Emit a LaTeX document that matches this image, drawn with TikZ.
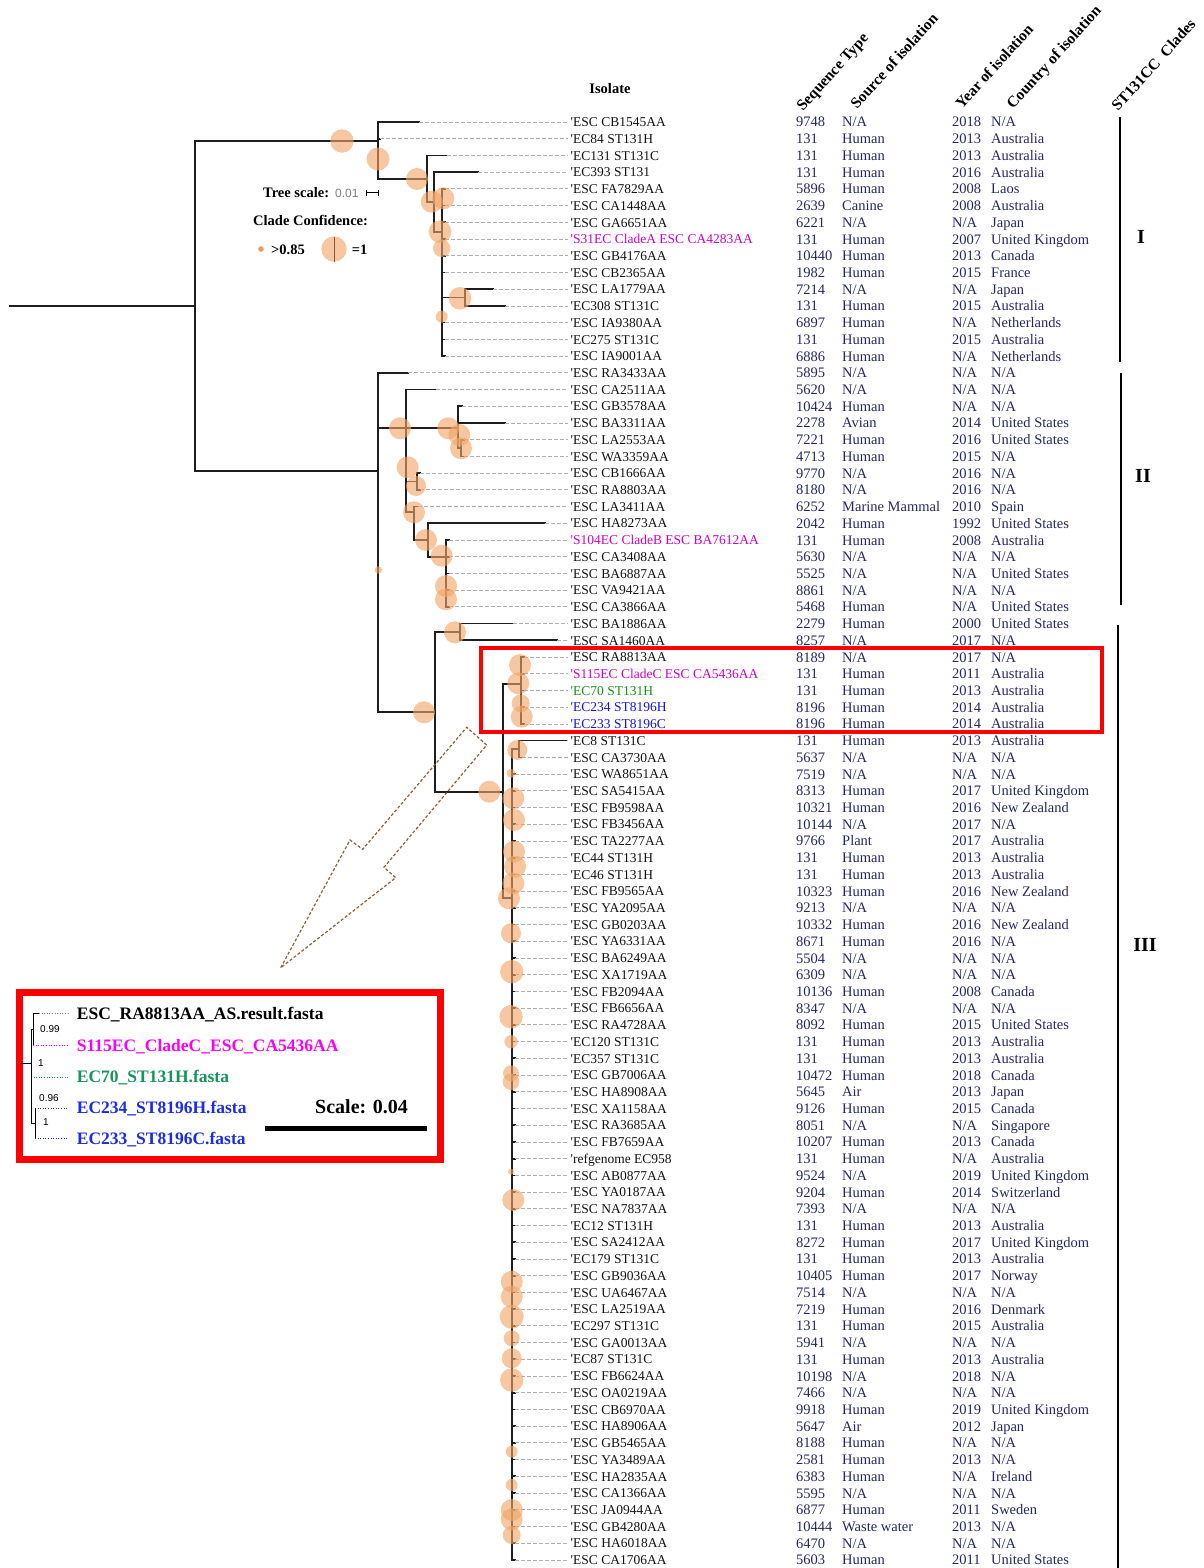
\documentclass[tikz,border=0pt]{standalone}
\usepackage{fontspec}
\setmainfont{Liberation Serif}
\newfontfamily\lblfont{Liberation Serif}
\newfontfamily\lsans{Liberation Sans}
\newcommand{\NA}{N/A}
\definecolor{peach}{RGB}{241,166,104}
\definecolor{dgrey}{RGB}{175,175,175}
\definecolor{navy}{RGB}{38,40,100}
\definecolor{lblk}{RGB}{20,20,20}
\definecolor{lmag}{RGB}{204,0,204}
\definecolor{lgrn}{RGB}{20,150,20}
\definecolor{lblu}{RGB}{20,20,230}
\definecolor{imag}{RGB}{250,0,250}
\definecolor{igrn}{RGB}{20,150,90}
\definecolor{iblu}{RGB}{25,45,230}
\definecolor{arrowbrown}{RGB}{150,95,50}
\definecolor{tline}{RGB}{30,30,30}
\begin{document}
\begin{tikzpicture}[x=1pt,y=-1pt,
  br/.style={tline,line width=1.7pt,line cap=rect},
  dl/.style={dgrey,line width=0.8pt,dash pattern=on 3.5pt off 2.5pt},
  lbl/.style={anchor=base west,inner sep=0pt,font=\lblfont\fontsize{13.5}{15}\selectfont},
  dat/.style={anchor=base west,inner sep=0pt,text=navy,font=\fontsize{14.5}{16}\selectfont},
  conf/.style={fill=peach,fill opacity=0.62,draw=none},
  hdr/.style={anchor=base west,inner sep=0pt,rotate=48,font=\bfseries\fontsize{15.5}{17}\selectfont},
  ilbl/.style={anchor=base west,inner sep=0pt,font=\bfseries\fontsize{17.5}{19}\selectfont},
  inum/.style={anchor=west,inner sep=0pt,font=\lsans\fontsize{10}{11}\selectfont},
  leg/.style={anchor=base west,inner sep=0pt,font=\bfseries\fontsize{14.5}{16}\selectfont},
]
\fill[white] (0,0) rectangle (1203,1568);
\useasboundingbox (0,0) rectangle (1203,1568);

% headers
\node[font=\bfseries\fontsize{14.5}{16}\selectfont] (hiso) at (610,89) {Isolate};
\node[hdr] (hst) at (803,112) {Sequence Type};
\node[hdr] (hsrc) at (857,110) {Source of isolation};
\node[hdr] (hyr) at (962,110) {Year of isolation};
\node[hdr] (hct) at (1013,110) {Country of isolation};
\node[hdr] (hcl) at (1118,112) {ST131CC\ \ Clades};

% internal tree branches
% root + clade I
\draw[br] (10,306) -- (195,306);
\draw[br] (195,141) -- (195,471);
\draw[br] (195,141) -- (378,141);
\draw[br] (378,122) -- (378,179);
\draw[br] (378,179) -- (427,179);
\draw[br] (427,155.4) -- (427,201.7);
\draw[br] (427,201.7) -- (434,201.7);
\draw[br] (434,172.2) -- (434,231.7);
\draw[br] (434,231.7) -- (441.7,231.7);
\draw[br] (441.7,188.9) -- (441.7,356.1);
\draw[br] (441.7,297.6) -- (465,297.6);
\draw[br] (465,289.2) -- (465,305.9);
% clade II
\draw[br] (195,471) -- (378,471);
\draw[br] (378,372.8) -- (378,712.3);
\draw[br] (378,428.3) -- (458.3,428.3);
\draw[br] (406,389.5) -- (406,512);
\draw[br] (458.3,406.2) -- (458.3,448);
\draw[br] (458.3,448) -- (461,448);
\draw[br] (461,439.7) -- (461,456.4);
\draw[br] (406,481.5) -- (416.7,481.5);
\draw[br] (416.7,473.1) -- (416.7,489.8);
\draw[br] (406,512) -- (414,512);
\draw[br] (414,506.6) -- (414,540);
\draw[br] (414,540) -- (428.3,540);
\draw[br] (428.3,523.3) -- (428.3,556.7);
\draw[br] (428.3,556.7) -- (446,556.7);
\draw[br] (446,540) -- (446,606.9);
% clade III
\draw[br] (378,712.3) -- (435,712.3);
\draw[br] (435,632) -- (435,791.7);
\draw[br] (435,632) -- (460,632);
\draw[br] (460,623.6) -- (460,640.3);
\draw[br] (435,791.7) -- (503,791.7);
\draw[br] (503,684.3) -- (503,898.3);
\draw[br] (503,684.3) -- (521,684.3);
\draw[br] (521,657) -- (521,723.9);
\draw[br] (503,898.3) -- (511.7,898.3);
\draw[br] (511.7,749) -- (511.7,1559.9);
\draw[br] (511.7,749) -- (519,749);
\draw[br] (519,740.6) -- (519,757.4);

% leaves
\foreach \i/\lab/\col/\st/\src/\yr/\ct/\xp/\xe in {
1/'ESC CB1545AA/lblk/9748/\NA/2018/\NA/378/419,
2/'EC84 ST131H/lblk/131/Human/2013/Australia/378/380,
3/'EC131 ST131C/lblk/131/Human/2013/Australia/427/447,
4/'EC393 ST131/lblk/131/Human/2016/Australia/434/478,
5/'ESC FA7829AA/lblk/5896/Human/2008/Laos/441.7/445,
6/'ESC CA1448AA/lblk/2639/Canine/2008/Australia/441.7/445,
7/'ESC GA6651AA/lblk/6221/\NA/\NA/Japan/441.7/445,
8/'S31EC CladeA ESC CA4283AA/lmag/131/Human/2007/United Kingdom/441.7/445,
9/'ESC GB4176AA/lblk/10440/Human/2013/Canada/441.7/445,
10/'ESC CB2365AA/lblk/1982/Human/2015/France/441.7/445,
11/'ESC LA1779AA/lblk/7214/\NA/\NA/Japan/465/493,
12/'EC308 ST131C/lblk/131/Human/2015/Australia/465/505,
13/'ESC IA9380AA/lblk/6897/Human/\NA/Netherlands/441.7/445,
14/'EC275 ST131C/lblk/131/Human/2015/Australia/441.7/445,
15/'ESC IA9001AA/lblk/6886/Human/\NA/Netherlands/441.7/445,
16/'ESC RA3433AA/lblk/5895/\NA/\NA/\NA/378/408,
17/'ESC CA2511AA/lblk/5620/\NA/\NA/\NA/406/436,
18/'ESC GB3578AA/lblk/10424/Human/\NA/\NA/458.3/462,
19/'ESC BA3311AA/lblk/2278/Avian/2014/United States/458.3/505,
20/'ESC LA2553AA/lblk/7221/Human/2016/United States/461/464,
21/'ESC WA3359AA/lblk/4713/Human/2015/\NA/461/464,
22/'ESC CB1666AA/lblk/9770/\NA/2016/\NA/416.7/420,
23/'ESC RA8803AA/lblk/8180/\NA/2016/\NA/416.7/420,
24/'ESC LA3411AA/lblk/6252/Marine Mammal/2010/Spain/414/418,
25/'ESC HA8273AA/lblk/2042/Human/1992/United States/428.3/545,
26/'S104EC CladeB ESC BA7612AA/lmag/131/Human/2008/Australia/446/449,
27/'ESC CA3408AA/lblk/5630/\NA/\NA/\NA/446/449,
28/'ESC BA6887AA/lblk/5525/\NA/\NA/United States/446/449,
29/'ESC VA9421AA/lblk/8861/\NA/\NA/\NA/446/449,
30/'ESC CA3866AA/lblk/5468/Human/\NA/United States/446/449,
31/'ESC BA1886AA/lblk/2279/Human/2000/United States/460/513,
32/'ESC SA1460AA/lblk/8257/\NA/2017/\NA/460/557,
33/'ESC RA8813AA/lblk/8189/\NA/2017/\NA/521/524,
34/'S115EC CladeC ESC CA5436AA/lmag/131/Human/2011/Australia/521/524,
35/'EC70 ST131H/lgrn/131/Human/2013/Australia/521/524,
36/'EC234 ST8196H/lblu/8196/Human/2014/Australia/521/524,
37/'EC233 ST8196C/lblu/8196/Human/2014/Australia/521/524,
38/'EC8 ST131C/lblk/131/Human/2013/Australia/519/567,
39/'ESC CA3730AA/lblk/5637/\NA/\NA/\NA/519/522,
40/'ESC WA8651AA/lblk/7519/\NA/\NA/\NA/511.7/515,
41/'ESC SA5415AA/lblk/8313/Human/2017/United Kingdom/511.7/515,
42/'ESC FB9598AA/lblk/10321/Human/2016/New Zealand/511.7/515,
43/'ESC FB3456AA/lblk/10144/\NA/2017/\NA/511.7/515,
44/'ESC TA2277AA/lblk/9766/Plant/2017/Australia/511.7/515,
45/'EC44 ST131H/lblk/131/Human/2013/Australia/511.7/515,
46/'EC46 ST131H/lblk/131/Human/2013/Australia/511.7/515,
47/'ESC FB9565AA/lblk/10323/Human/2016/New Zealand/511.7/515,
48/'ESC YA2095AA/lblk/9213/\NA/\NA/\NA/511.7/515,
49/'ESC GB0203AA/lblk/10332/Human/2016/New Zealand/511.7/515,
50/'ESC YA6331AA/lblk/8671/Human/2016/\NA/511.7/515,
51/'ESC BA6249AA/lblk/5504/\NA/\NA/\NA/511.7/515,
52/'ESC XA1719AA/lblk/6309/\NA/\NA/\NA/511.7/515,
53/'ESC FB2094AA/lblk/10136/Human/2008/Canada/511.7/515,
54/'ESC FB6656AA/lblk/8347/\NA/\NA/\NA/511.7/515,
55/'ESC RA4728AA/lblk/8092/Human/2015/United States/511.7/515,
56/'EC120 ST131C/lblk/131/Human/2013/Australia/511.7/515,
57/'EC357 ST131C/lblk/131/Human/2013/Australia/511.7/515,
58/'ESC GB7006AA/lblk/10472/Human/2018/Canada/511.7/515,
59/'ESC HA8908AA/lblk/5645/Air/2013/Japan/511.7/515,
60/'ESC XA1158AA/lblk/9126/Human/2015/Canada/511.7/515,
61/'ESC RA3685AA/lblk/8051/\NA/\NA/Singapore/511.7/515,
62/'ESC FB7659AA/lblk/10207/Human/2013/Canada/511.7/515,
63/'refgenome EC958/lblk/131/Human/\NA/Australia/511.7/515,
64/'ESC AB0877AA/lblk/9524/\NA/2019/United Kingdom/511.7/515,
65/'ESC YA0187AA/lblk/9204/Human/2014/Switzerland/511.7/515,
66/'ESC NA7837AA/lblk/7393/\NA/\NA/\NA/511.7/515,
67/'EC12 ST131H/lblk/131/Human/2013/Australia/511.7/515,
68/'ESC SA2412AA/lblk/8272/Human/2017/United Kingdom/511.7/515,
69/'EC179 ST131C/lblk/131/Human/2013/Australia/511.7/515,
70/'ESC GB9036AA/lblk/10405/Human/2017/Norway/511.7/515,
71/'ESC UA6467AA/lblk/7514/\NA/\NA/\NA/511.7/515,
72/'ESC LA2519AA/lblk/7219/Human/2016/Denmark/511.7/515,
73/'EC297 ST131C/lblk/131/Human/2015/Australia/511.7/515,
74/'ESC GA0013AA/lblk/5941/\NA/\NA/\NA/511.7/515,
75/'EC87 ST131C/lblk/131/Human/2013/Australia/511.7/515,
76/'ESC FB6624AA/lblk/10198/\NA/2018/\NA/511.7/515,
77/'ESC OA0219AA/lblk/7466/\NA/\NA/\NA/511.7/515,
78/'ESC CB6970AA/lblk/9918/Human/2019/United Kingdom/511.7/515,
79/'ESC HA8906AA/lblk/5647/Air/2012/Japan/511.7/515,
80/'ESC GB5465AA/lblk/8188/Human/\NA/\NA/511.7/515,
81/'ESC YA3489AA/lblk/2581/Human/2013/\NA/511.7/515,
82/'ESC HA2835AA/lblk/6383/Human/\NA/Ireland/511.7/515,
83/'ESC CA1366AA/lblk/5595/\NA/\NA/\NA/511.7/515,
84/'ESC JA0944AA/lblk/6877/Human/2011/Sweden/511.7/515,
85/'ESC GB4280AA/lblk/10444/Waste water/2013/\NA/511.7/515,
86/'ESC HA6018AA/lblk/6470/\NA/\NA/\NA/511.7/515,
87/'ESC CA1706AA/lblk/5603/Human/2011/United States/511.7/515}{
  \pgfmathsetmacro\yy{122+(\i-1)*16.72}
  \draw[br] (\xp,\yy) -- (\xe,\yy);
  \draw[dl] (\xe,\yy) -- (568,\yy);
  \node[lbl,text=\col] (lab\i) at (570.5,\yy+4.7) {\lab};
  \node[dat] (st\i) at (796,\yy+5) {\st};
  \node[dat] (src\i) at (842,\yy+5) {\src};
  \node[dat] (yr\i) at (952,\yy+5) {\yr};
  \node[dat] (ct\i) at (991,\yy+5) {\ct};
}

% confidence circles
\foreach \cx/\cy/\r in {
342/141/11.7, 378/159/11.5, 417/179/11, 431.7/201.7/11, 443.3/198.3/11,
440/231.7/11.3, 441.7/248.3/8.7, 460/298.3/11.3, 441.7/316.7/6,
378.3/570/3.7, 400/428.3/11, 448.3/428.3/11, 459.3/435/11, 461/448.3/11,
407.7/467.3/11, 416/486/10, 414/512.3/11, 426/540/11, 441.7/555.7/11,
446/586/11, 446/599.3/11,
424/712.3/11, 455/632.3/11, 489.3/791.7/11, 520/665/11, 518.3/683.3/11,
520.7/703.3/9, 521.7/716.7/11, 517.3/750/10, 511/773.3/4.5, 513.3/798.3/11,
514/820/11, 514/851.7/11, 515/866.7/11, 513.3/883.3/11, 509/898.3/11,
511/933.3/10, 511.7/971.7/11.7, 511/1016.7/11.7, 511/1041.7/6.7,
511/1073.3/8, 511/1081.7/8.3, 511/1171.7/3, 513.3/1200/11,
511.7/1281.7/11, 511.7/1296.7/11, 511.7/1316.7/12, 511.7/1338.3/8,
511.7/1358.3/10, 511.7/1380/11.7, 511.7/1451.7/6, 511.7/1485/6,
511.7/1510/11, 511.7/1519.3/11, 511.7/1535/9}{
  \fill[conf] (\cx,\cy) circle (\r);
}

% legend
\node[leg] (tsc) at (263,197) {Tree scale:};
\node[anchor=base west,inner sep=0pt,text=gray,font=\lsans\fontsize{12}{13}\selectfont] (tsv) at (335,197) {0.01};
\draw[line width=0.8pt] (366,192.7) -- (378,192.7);
\draw[line width=0.8pt] (366,189.7) -- (366,195.7);
\draw[line width=0.8pt] (378,189.7) -- (378,195.7);
\node[leg] (ccl) at (253,225) {Clade Confidence:};
\fill[peach!80!brown] (261,249) circle (2.8);
\node[leg] (l085) at (271,254) {>0.85};
\fill[conf] (334,249) circle (12.7);
\draw[brown!70!black,line width=1pt] (334,236.5) -- (334,261.5);
\node[leg] (l1) at (351.7,254) {=1};

% clade bars
\draw[line width=1.5pt] (1120,117) -- (1120,362);
\draw[line width=1.5pt] (1121,373) -- (1121,605);
\draw[line width=1.5pt] (1118,625) -- (1118,1568);
\node[font=\bfseries\fontsize{20}{22}\selectfont] (cI) at (1141,237) {I};
\node[font=\bfseries\fontsize{20}{22}\selectfont] (cII) at (1143,476) {II};
\node[font=\bfseries\fontsize{20}{22}\selectfont] (cIII) at (1145,945) {III};

% red highlight box
\draw[red,line width=4pt] (481,648) rectangle (1102,731.5);

% arrow
\draw[arrowbrown,line width=1.2pt,dash pattern=on 3pt off 2pt,line join=miter]
  (280.7,967.7) -- (350,840) -- (362.7,849.3) -- (466.7,727.3) -- (486.7,745)
  -- (384,867.3) -- (395.7,877.7) -- cycle;

% inset
\draw[red,line width=6.5pt,fill=white] (19.5,992.5) rectangle (440.3,1159.7);
\draw[gray,line width=0.6pt,dotted] (39,1013) -- (68,1013);
\draw[imag,line width=0.6pt,dotted] (33,1045) -- (68,1045);
\draw[igrn,line width=0.6pt,dotted] (31,1077) -- (68,1077);
\draw[iblu,line width=0.6pt,dotted] (35,1108) -- (68,1108);
\draw[iblu,line width=0.6pt,dotted] (35,1138) -- (68,1138);
\draw[line width=1pt] (33,1013) -- (39,1013);
\draw[line width=1pt] (33,1013) -- (33,1045);
\draw[line width=1pt] (20,1063) -- (31,1063);
\draw[line width=1pt] (31,1029) -- (31,1123);
\draw[line width=1pt] (31,1029) -- (33,1029);
\draw[line width=1pt] (31,1123) -- (35,1123);
\draw[line width=1pt] (35,1108) -- (35,1138);
\node[inum] (n099) at (40,1029) {0.99};
\node[inum] (n1a) at (38,1063) {1};
\node[inum] (n096) at (39,1098) {0.96};
\node[inum] (n1b) at (43,1122) {1};
\node[ilbl] (i1) at (76.7,1019) {ESC\_RA8813AA\_AS.result.fasta};
\node[ilbl,text=imag] (i2) at (76.7,1051) {S115EC\_CladeC\_ESC\_CA5436AA};
\node[ilbl,text=igrn] (i3) at (76.7,1082.5) {EC70\_ST131H.fasta};
\node[ilbl,text=iblu] (i4) at (76.7,1113.5) {EC234\_ST8196H.fasta};
\node[ilbl,text=iblu] (i5) at (76.7,1144) {EC233\_ST8196C.fasta};
\node[anchor=base west,inner sep=0pt,font=\bfseries\fontsize{20}{22}\selectfont] (isc) at (315,1113) {Scale: 0.04};
\draw[line width=4.5pt] (265,1128.3) -- (426.7,1128.3);
\end{tikzpicture}
\end{document}
